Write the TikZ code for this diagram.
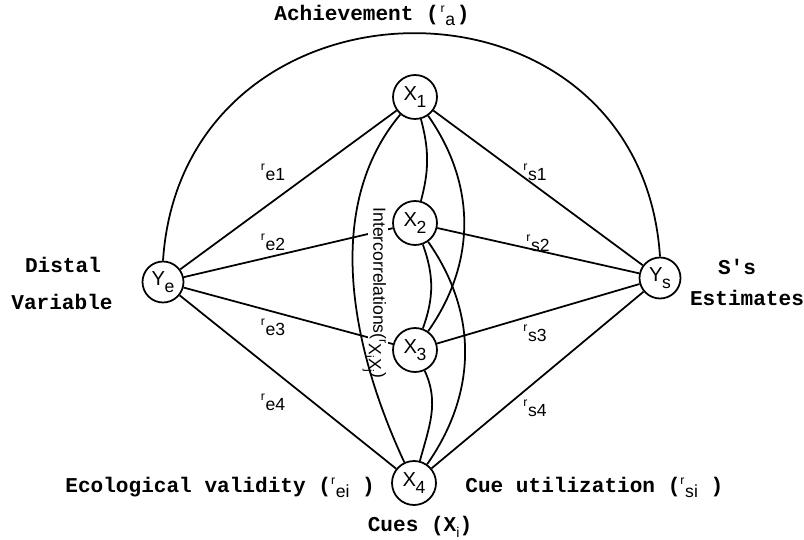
\documentclass[tikz,border=0pt]{standalone}
\usepackage{fontspec}
\setmainfont{Liberation Serif}
\setsansfont{Liberation Sans}
\newfontfamily\typefont{Liberation Mono}

% small raised r with a lowered index, as on the typed figure
\newcommand{\rlab}[1]{{\sffamily\mdseries\raisebox{0.65ex}{\fontsize{7}{8}\selectfont r}\kern0.4pt\raisebox{-0.45ex}{\fontsize{10}{12}\selectfont #1}}}
\newcommand{\vsub}[2]{#1\kern-0.3pt\raisebox{-0.6ex}{\fontsize{10}{12}\selectfont #2}}

\begin{document}
\begin{tikzpicture}[
	x=0.02cm, y=-0.02cm,
	% Define styles
	cue/.style={circle, draw, line width=1pt, minimum size=0.88cm, inner sep=0pt, font=\sffamily\fontsize{11.5}{13}\selectfont},
	pole/.style={cue, minimum size=0.82cm},
	corr/.style={inner sep=1pt, font=\sffamily\fontsize{10}{12}\selectfont},
	caption/.style={inner sep=0pt, font=\typefont\bfseries\fontsize{12}{14}\selectfont},
	link/.style={line width=1pt}
	]
	\useasboundingbox (0,0) rectangle (804,540);
	
	% 1. Distal variable and estimate
	\node[pole] (Ye) at (163,282) {\vsub{Y}{e}};
	\node[pole] (Ys) at (660,278) {\vsub{Y}{s}};
	
	% 2. Cues
	\node[cue] (X1) at (415,97) {\vsub{X}{1}};
	\node[cue] (X2) at (415,223) {\vsub{X}{2}};
	\node[cue] (X3) at (415,350) {\vsub{X}{3}};
	\node[cue] (X4) at (414,483) {\vsub{X}{4}};
	
	% Validities and utilizations
	\foreach \i in {1,...,4} {
		\draw[link] (Ye) -- (X\i);
		\draw[link] (Ys) -- (X\i);
	}
	
	% Achievement arc
	\draw[link] (Ye.north) .. controls (183,-39) and (640,-45) .. (Ys.north);
	
	% 3. Intercorrelations among cues
	\node[corr, fill=white, rotate=-90] (inter) at (378,293) {Intercorrelations(\smash{\raisebox{0.65ex}{\fontsize{7}{8}\selectfont r}\raisebox{-0.5ex}{X\raisebox{-0.4ex}{\fontsize{7}{8}\selectfont i}X\raisebox{-0.4ex}{\fontsize{7}{8}\selectfont j}}})};
	\draw[link] (X1) to[out=-75, in=75] (X2);
	\draw[link] (X2) to[out=-70, in=70] (X3);
	\draw[link] (X3) to[out=-65, in=75] (X4);
	\draw[link] (X1) to[out=-55, in=55] (X3);
	\draw[link] (X2) to[out=-55, in=55] (X4);
	\draw[link] (X1) to[out=230, in=115, looseness=0.9] (X4);
	
	% 4. Correlation labels
	\node[corr] (re1) at (273,172) {\rlab{e1}};
	\node[corr] (re2) at (273,242) {\rlab{e2}};
	\node[corr] (re3) at (273,327) {\rlab{e3}};
	\node[corr] (re4) at (273,402) {\rlab{e4}};
	\node[corr] (rs1) at (535,172) {\rlab{s1}};
	\node[corr] (rs2) at (538,243) {\rlab{s2}};
	\node[corr] (rs3) at (535,333) {\rlab{s3}};
	\node[corr] (rs4) at (535,408) {\rlab{s4}};
	
	% 5. Captions
	\node[caption, anchor=west] (achieve) at (274,15) {Achievement (\kern1pt\rlab{a}\kern1pt)};
	\node[caption] (distal) at (63,265) {Distal};
	\node[caption] (variable) at (62,302) {Variable};
	\node[caption] (sjudge) at (737,267) {S's};
	\node[caption] (estim) at (747,298) {Estimates};
	\node[caption, anchor=west] (ecol) at (65,487) {Ecological validity (\rlab{ei} )};
	\node[caption, anchor=west] (utiliz) at (465,487) {Cue utilization (\rlab{si} )};
	\node[caption] (cues) at (420,527) {Cues (X\raisebox{-0.6ex}{\sffamily\mdseries\fontsize{8}{9}\selectfont i})};
\end{tikzpicture}
\end{document}
